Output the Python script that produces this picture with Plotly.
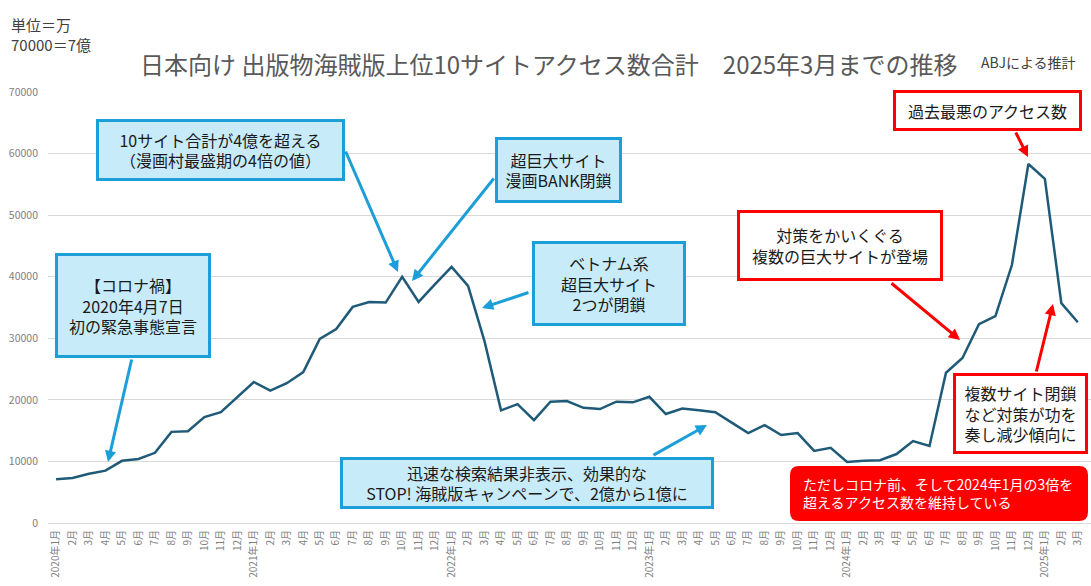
import plotly.graph_objects as go

# 日本向け 出版物海賊版上位10サイト アクセス数合計（単位：万）
months = [
    "2020年1月", "2月", "3月", "4月", "5月", "6月", "7月", "8月", "9月", "10月", "11月", "12月",
    "2021年1月", "2月", "3月", "4月", "5月", "6月", "7月", "8月", "9月", "10月", "11月", "12月",
    "2022年1月", "2月", "3月", "4月", "5月", "6月", "7月", "8月", "9月", "10月", "11月", "12月",
    "2023年1月", "2月", "3月", "4月", "5月", "6月", "7月", "8月", "9月", "10月", "11月", "12月",
    "2024年1月", "2月", "3月", "4月", "5月", "6月", "7月", "8月", "9月", "10月", "11月", "12月",
    "2025年1月", "2月", "3月",
]
access = [
    7100, 7300, 8000, 8500, 10100, 10400, 11400, 14800, 14900, 17200, 18000, 20500,
    22900, 21500, 22700, 24500, 29900, 31500, 35100, 35900, 35800, 40000, 35900, 38800,
    41600, 38500, 29500, 18300, 19300, 16700, 19700, 19800, 18700, 18500, 19700, 19600,
    20500, 17700, 18600, 18300, 18000, 16300, 14600, 15900, 14300, 14600, 11700, 12200,
    9900, 10100, 10200, 11200, 13300, 12500, 24400, 26800, 32300, 33600, 41900, 58300,
    55900, 35700, 32600,
]
y_ticks = [0, 10000, 20000, 30000, 40000, 50000, 60000, 70000]

FONT = "Noto Sans CJK JP"
BLUE_BG, BLUE_LINE = "#c8ebf9", "#1c9fd8"
RED = "#ff0000"

# 図の枠（ピクセル）
W, H = 1091, 586
PL, PR, PT, PB = 48, 1091, 92, 523
XMIN, XMAX = -0.49, 62.8
YMAX = 70000


def px(x):
    return (x - PL) / (PR - PL)


def py(y):
    return (PB - y) / (PB - PT)


def dx(x):
    return XMIN + px(x) * (XMAX - XMIN)


def dy(y):
    return py(y) * YMAX


fig = go.Figure()
fig.add_trace(go.Scatter(
    x=list(range(len(access))),
    y=access,
    mode="lines",
    line=dict(color="#1f5b78", width=2.5),
    hoverinfo="x+y",
))

annos = []
shapes = []


def box(text, x0, y0, x1, y1, bg, line, size=16, color="#1a1a1a", bw=3, align="center"):
    annos.append(dict(
        xref="paper", yref="paper",
        x=px((x0 + x1) / 2), y=py((y0 + y1) / 2),
        xanchor="center", yanchor="middle",
        text=text, showarrow=False, align=align,
        width=x1 - x0 - 2 * bw, height=y1 - y0 - 2 * bw,
        bgcolor=bg, bordercolor=line, borderwidth=bw, borderpad=0,
        font=dict(family=FONT, size=size, color=color),
    ))


def arrow(x0, y0, x1, y1, color):
    annos.append(dict(
        xref="x", yref="y", axref="x", ayref="y",
        x=dx(x1), y=dy(y1), ax=dx(x0), ay=dy(y0),
        text="", showarrow=True, arrowhead=2, arrowsize=0.75,
        arrowwidth=3, arrowcolor=color, standoff=0, startstandoff=0,
    ))


def label(text, x, y, size, color, anchor="center"):
    annos.append(dict(
        xref="paper", yref="paper", x=px(x), y=py(y),
        xanchor=anchor, yanchor="middle", text=text, showarrow=False,
        align="left", font=dict(family=FONT, size=size, color=color),
    ))


# 見出し
label("日本向け 出版物海賊版上位10サイトアクセス数合計　2025年3月までの推移", 548, 63, 24, "#595959")
label("ABJによる推計", 979, 62, 14, "#404040", anchor="left")
label("単位＝万<br>70000＝7億", 9, 35, 15, "#404040", anchor="left")

# 青い吹き出し
box("【コロナ禍】<br>2020年4月7日<br>初の緊急事態宣言", 55, 253, 211, 358, BLUE_BG, BLUE_LINE)
box("10サイト合計が4億を超える<br>（漫画村最盛期の4倍の値）", 96, 119, 345, 181, BLUE_BG, BLUE_LINE)
box("超巨大サイト<br>漫画BANK閉鎖", 495, 137, 622, 203, BLUE_BG, BLUE_LINE)
box("ベトナム系<br>超巨大サイト<br>2つが閉鎖", 532, 241, 686, 326, BLUE_BG, BLUE_LINE)
box("迅速な検索結果非表示、効果的な<br>STOP! 海賊版キャンペーンで、2億から1億に",
    340, 457, 714, 509, BLUE_BG, BLUE_LINE)

arrow(132, 358, 108, 462, BLUE_LINE)
arrow(345, 150, 398, 272, BLUE_LINE)
arrow(495, 177, 412, 281, BLUE_LINE)
arrow(530, 292, 482, 308, BLUE_LINE)
arrow(652, 456, 707, 425, BLUE_LINE)

# 赤い吹き出し
box("過去最悪のアクセス数", 893, 90, 1082, 131, "white", RED)
box("対策をかいくぐる<br>複数の巨大サイトが登場", 737, 210, 943, 281, "white", RED)
box("複数サイト閉鎖<br>など対策が功を<br>奏し減少傾向に", 953, 373, 1088, 454, "white", RED)

arrow(1015, 131, 1028, 157, RED)
arrow(890, 282, 960, 340, RED)
arrow(1036, 373, 1053, 304, RED)

# 角丸の赤いボックス
x0, y0, x1, y1, r = 790, 466, 1088, 521, 9
path = (
    f"M{px(x0 + r)},{py(y0)} L{px(x1 - r)},{py(y0)} Q{px(x1)},{py(y0)} {px(x1)},{py(y0 + r)} "
    f"L{px(x1)},{py(y1 - r)} Q{px(x1)},{py(y1)} {px(x1 - r)},{py(y1)} "
    f"L{px(x0 + r)},{py(y1)} Q{px(x0)},{py(y1)} {px(x0)},{py(y1 - r)} "
    f"L{px(x0)},{py(y0 + r)} Q{px(x0)},{py(y0)} {px(x0 + r)},{py(y0)} Z"
)
shapes.append(dict(type="path", xref="paper", yref="paper", path=path,
                   fillcolor=RED, line=dict(width=0), layer="above"))
label("ただしコロナ前、そして2024年1月の3倍を<br>超えるアクセス数を維持している",
      801, 493, 14, "white", anchor="left")

fig.update_layout(
    width=W, height=H, autosize=False,
    margin=dict(l=PL, r=W - PR, t=PT, b=H - PB),
    paper_bgcolor="white", plot_bgcolor="white",
    showlegend=False,
    font=dict(family=FONT),
    annotations=annos,
    shapes=shapes,
    xaxis=dict(
        range=[XMIN, XMAX],
        tickmode="array", tickvals=list(range(len(months))), ticktext=months,
        tickangle=-90, tickfont=dict(size=10, color="#808080"),
        showgrid=False, zeroline=False, showline=False, ticks="",
        ticklabelstandoff=4,
    ),
    yaxis=dict(
        range=[0, YMAX],
        tickmode="array", tickvals=y_ticks, ticktext=[str(v) for v in y_ticks],
        tickfont=dict(size=10.5, color="#808080"),
        showgrid=True, gridcolor="#d9d9d9", gridwidth=1,
        zeroline=True, zerolinecolor="#d9d9d9", zerolinewidth=1,
        showline=False, ticks="", ticklabelstandoff=9,
    ),
)

# ページ余白を消す、ツールバーも隠す
fig.write_html("out.html", config={"displayModeBar": False},
               post_script="document.body.style.margin='0';")
